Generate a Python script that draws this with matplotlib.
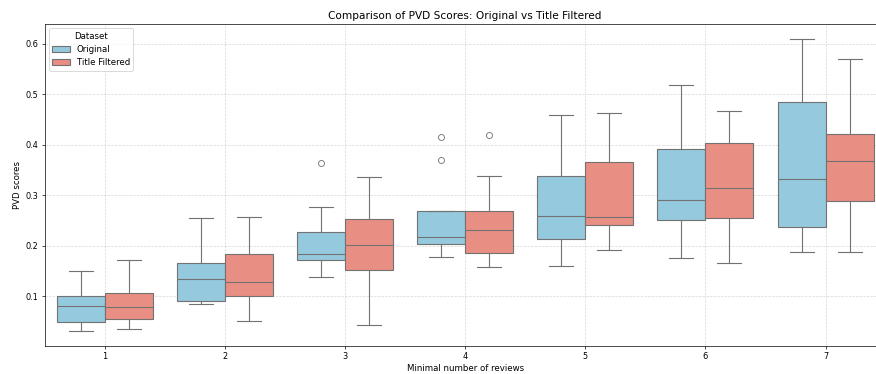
import matplotlib
matplotlib.use("Agg")
import matplotlib.pyplot as plt
from matplotlib.patches import Patch
import seaborn as sns

categories = ["1", "2", "3", "4", "5", "6", "7"]
datasets = ["Original", "Title Filtered"]

# box statistics: whislo, q1, median, q3, whishi
orig_whislo = [0.031, 0.086, 0.139, 0.1785, 0.161, 0.177, 0.188]
orig_q1     = [0.050, 0.091, 0.173, 0.204, 0.213, 0.252, 0.238]
orig_med    = [0.082, 0.134, 0.1845, 0.217, 0.260, 0.291, 0.332]
orig_q3     = [0.101, 0.167, 0.227, 0.269, 0.3375, 0.391, 0.485]
orig_whishi = [0.151, 0.255, 0.277, 0.269, 0.458, 0.518, 0.610]
orig_fliers = [[], [], [0.364], [0.4147, 0.3705], [], [], []]

filt_whislo = [0.035, 0.052, 0.043, 0.159, 0.192, 0.167, 0.188]
filt_q1     = [0.056, 0.100, 0.153, 0.185, 0.242, 0.256, 0.288]
filt_med    = [0.080, 0.128, 0.202, 0.2305, 0.258, 0.314, 0.368]
filt_q3     = [0.106, 0.1845, 0.254, 0.270, 0.3665, 0.404, 0.421]
filt_whishi = [0.172, 0.258, 0.336, 0.3375, 0.462, 0.466, 0.570]
filt_fliers = [[], [], [], [0.420], [], [], []]

colors = [sns.desaturate("skyblue", 0.75), sns.desaturate("salmon", 0.75)]
line_gray = "#727272"

DPI = 62
fig = plt.figure(figsize=(876 / DPI, 374 / DPI), dpi=DPI)
ax = fig.add_axes([0.051, 0.0749, 0.960, 0.861])

def make_stats(wl, q1, med, q3, wh, fl):
    return [dict(whislo=a, q1=b, med=c, q3=d, whishi=e, fliers=f)
            for a, b, c, d, e, f in zip(wl, q1, med, q3, wh, fl)]

series = [
    make_stats(orig_whislo, orig_q1, orig_med, orig_q3, orig_whishi, orig_fliers),
    make_stats(filt_whislo, filt_q1, filt_med, filt_q3, filt_whishi, filt_fliers),
]

width = 0.4
lw = 1.3
for k, stats in enumerate(series):
    offset = -0.2 + k * 0.4
    pos = [i + offset for i in range(len(categories))]
    ax.bxp(stats, positions=pos, widths=width, patch_artist=True,
           capwidths=width * 0.5, manage_ticks=False,
           boxprops=dict(facecolor=colors[k], edgecolor=line_gray, linewidth=lw),
           medianprops=dict(color=line_gray, linewidth=lw),
           whiskerprops=dict(color=line_gray, linewidth=lw),
           capprops=dict(color=line_gray, linewidth=lw),
           flierprops=dict(marker="o", markerfacecolor="none",
                           markeredgecolor=line_gray, markersize=7, linewidth=0))

ax.set_xticks(range(len(categories)))
ax.set_xticklabels(categories)
ax.tick_params(labelsize=9.5)
ax.set_xlim(-0.5, len(categories) - 0.5)
ax.autoscale(axis="y")
ax.margins(y=0.05)
ax.set_axisbelow(True)
ax.grid(True, linestyle="--", alpha=0.5)
ax.set_title("Comparison of PVD Scores: Original vs Title Filtered", fontsize=12.2)
ax.set_xlabel("Minimal number of reviews", fontsize=10)
ax.set_ylabel("PVD scores", fontsize=10)

handles = [Patch(facecolor=colors[i], edgecolor=line_gray, linewidth=lw, label=datasets[i])
           for i in range(2)]
ax.legend(handles=handles, title="Dataset", loc="upper left", fontsize=10, title_fontsize=10)

fig.savefig("out.png", dpi=DPI)
